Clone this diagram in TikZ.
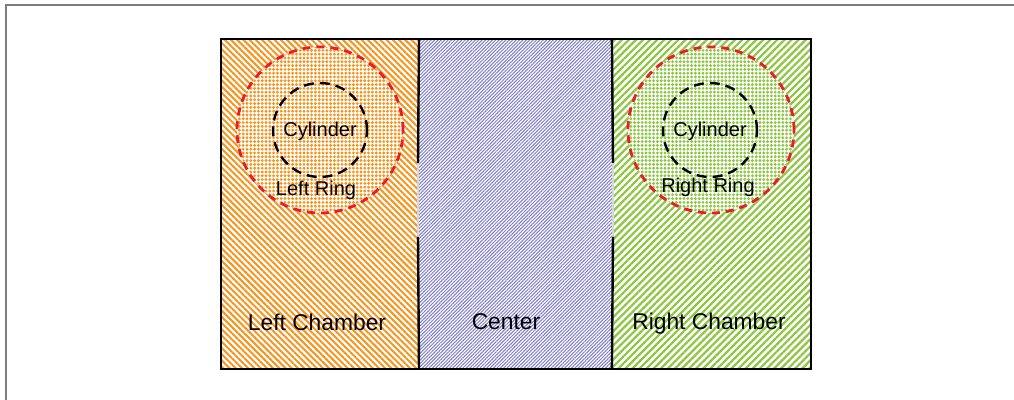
\documentclass[tikz,border=0pt]{standalone}
\usepackage{fontspec}
\setmainfont{Liberation Sans}
\usetikzlibrary{patterns.meta}
\definecolor{chorange}{RGB}{247,148,30}
\definecolor{chblue}{RGB}{125,125,198}
\definecolor{chgreen}{RGB}{141,198,63}
\definecolor{ringred}{RGB}{237,28,36}
\definecolor{framegray}{RGB}{125,125,125}
\definecolor{gapgray}{RGB}{215,215,215}
\begin{document}
\begin{tikzpicture}[x=0.5pt,y=0.5pt,
  chamber/.style={inner sep=0pt,minimum width=98pt,minimum height=164pt},
  ring/.style={circle,inner sep=0pt,minimum size=83pt,preaction={fill=white},draw=ringred,line width=1.4pt,dash pattern=on 4pt off 3pt},
  cyl/.style={circle,inner sep=0pt,minimum size=47pt,draw=black,line width=1.2pt,dash pattern=on 5pt off 3pt},
  biglabel/.style={font=\fontsize{11.4}{13}\selectfont},
  smalllabel/.style={font=\fontsize{10}{12}\selectfont}]
\useasboundingbox[fill=white] (0,0) rectangle (1014,400);
% page frame (cut off at right and bottom)
\coordinate (fbl) at (6,0);
\coordinate (ftl) at (6,395);
\coordinate (ftr) at (1014,395);
\draw[framegray,line width=1pt] (fbl) -- (ftl) -- (ftr);
% chambers
\node[chamber,pattern={Lines[angle=-45,distance=2.2pt,line width=1pt]},pattern color=chorange] (lc) at (320,196) {};
\node[chamber,minimum width=97.5pt,pattern={Lines[angle=45,distance=1.2pt,line width=0.5pt]},pattern color=chblue] (cc) at (515.5,196) {};
\node[chamber,minimum width=98.5pt,pattern={Lines[angle=45,distance=2.5pt,line width=1.1pt]},pattern color=chgreen] (rc) at (711.5,196) {};
% rings and cylinders
\node[ring,pattern={Dots[radius=0.8pt,distance=1.9pt]},pattern color=chorange] (lr) at (320,270) {};
\node[ring,pattern={Dots[radius=0.8pt,distance=1.9pt]},pattern color=chgreen] (rr) at (711,270) {};
\node[cyl] (lcyl) at (320,270) {};
\node[cyl] (rcyl) at (710,270) {};
% labels
\node[smalllabel] (lcyltxt) at (320,269) {Cylinder};
\node[smalllabel] (rcyltxt) at (710,269) {Cylinder};
\node[smalllabel] (lrtxt) at (316,210) {Left Ring};
\node[smalllabel] (rrtxt) at (708,213) {Right Ring};
\node[biglabel] (lctxt) at (317,78) {Left Chamber};
\node[biglabel] (cctxt) at (506,78) {Center};
\node[biglabel] (rctxt) at (709,76) {Right Chamber};
% walls with openings
\coordinate (lgt) at (418,237);
\coordinate (lgb) at (418,163);
\coordinate (rgt) at (613,237);
\coordinate (rgb) at (613,163);
\draw[gapgray,line width=0.8pt] (lgt) -- (lgb) (rgt) -- (rgb);
\draw[black,line width=1.2pt] (lc.north east) -- (lgt) (lgb) -- (lc.south east);
\draw[black,line width=1.2pt] (rc.north west) -- (rgt) (rgb) -- (rc.south west);
\draw[black,line width=1.2pt] (lc.north west) rectangle (rc.south east);
\end{tikzpicture}
\end{document}
